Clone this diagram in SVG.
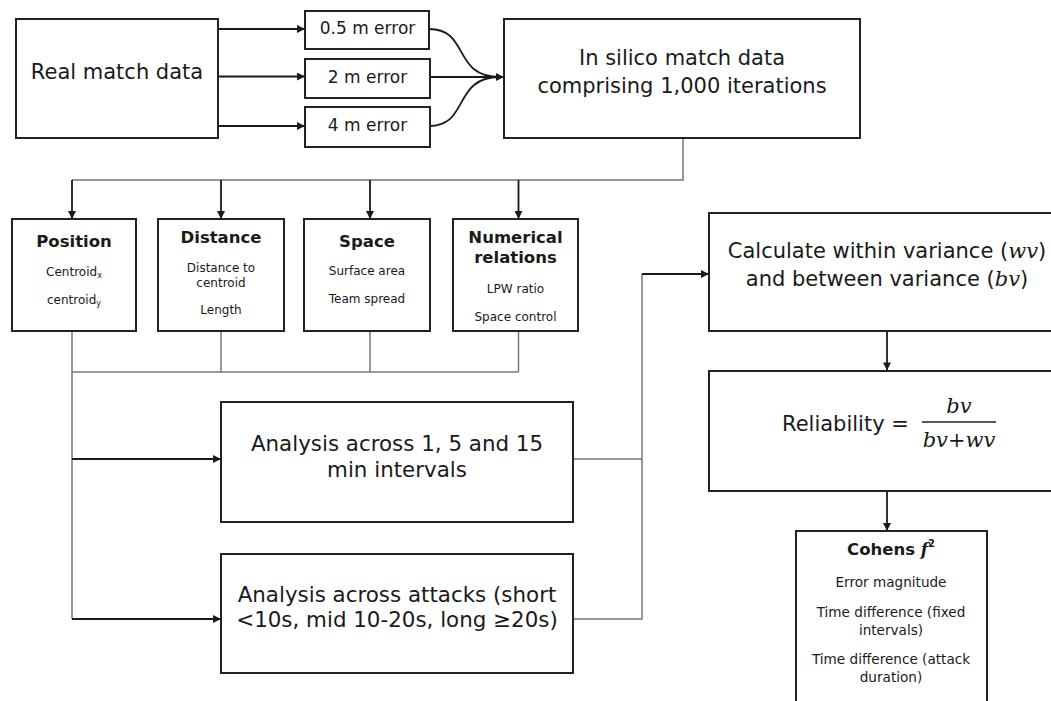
<svg xmlns="http://www.w3.org/2000/svg" width="1051" height="701" viewBox="0 0 1051 701">
<defs>
<marker id="ah" viewBox="0 0 10 10" markerWidth="9" markerHeight="8" refX="10" refY="5" orient="auto" markerUnits="userSpaceOnUse">
<path d="M0,0 L10,5 L0,10 z" fill="#1a1a1a"/>
</marker>
</defs>
<style>
.box{fill:#fff;stroke:#222;stroke-width:2}
.t{font-family:"DejaVu Sans",Verdana,sans-serif;fill:#1a1a1a;text-anchor:middle;dominant-baseline:central}
.big{font-size:21px}
.ana{font-size:21.4px}
.mid{font-size:17px}
.hd{font-size:16.5px;font-weight:bold}
.sm{font-size:12px}
.cs{font-size:13.6px}
.m{font-family:"DejaVu Serif",serif;font-style:italic}
.ln{fill:none;stroke:#777;stroke-width:1.5}
.ar{fill:none;stroke:#1a1a1a;stroke-width:1.8;marker-end:url(#ah)}
.cv{fill:none;stroke:#1a1a1a;stroke-width:1.8}
</style>
<rect width="1051" height="701" fill="#fff"/>

<g id="connectors">
<path class="ar" d="M218,29 H305"/>
<path class="ar" d="M218,76.5 H305"/>
<path class="ar" d="M218,126 H305"/>
<path class="cv" d="M429,29 C470,29 452,77 500,77"/>
<path class="cv" d="M429,126 C470,126 452,77 500,77"/>
<path class="ar" d="M430,77 H504"/>
<path class="ln" d="M683,138 V180 H72"/>
<path class="ar" d="M72,180 V219"/>
<path class="ar" d="M221,180 V219"/>
<path class="ar" d="M370,180 V219"/>
<path class="ar" d="M518.5,180 V219"/>
<path class="ln" d="M72,331 V619"/>
<path class="ln" d="M221,331 V372"/>
<path class="ln" d="M370,331 V372"/>
<path class="ln" d="M518.5,331 V372"/>
<path class="ln" d="M72,372 H518.5"/>
<path class="ar" d="M72,459 H221"/>
<path class="ar" d="M72,619 H221"/>
<path class="ln" d="M573,459 H642"/>
<path class="ln" d="M573,619 H642 V274"/>
<path class="ar" d="M642,274 H709"/>
<path class="ar" d="M887,331 V370.5"/>
<path class="ar" d="M887,491 V531"/>
</g>

<g id="real">
<rect class="box" x="16" y="19" width="202" height="119"/>
<text class="t big" x="117" y="72">Real match data</text>
</g>
<g id="err05">
<rect class="box" x="305" y="11" width="124" height="38"/>
<text class="t mid" x="367.5" y="28">0.5 m error</text>
</g>
<g id="err2">
<rect class="box" x="305" y="59" width="125" height="39"/>
<text class="t mid" x="367.5" y="76.5">2 m error</text>
</g>
<g id="err4">
<rect class="box" x="305" y="107" width="125" height="40"/>
<text class="t mid" x="367.5" y="125">4 m error</text>
</g>
<g id="insilico">
<rect class="box" x="504" y="19" width="356" height="119"/>
<text class="t big" x="682" y="58">In silico match data</text>
<text class="t big" x="682" y="86">comprising 1,000 iterations</text>
</g>

<g id="position">
<rect class="box" x="12" y="219" width="124" height="112"/>
<text class="t hd" x="74" y="241">Position</text>
<text class="t sm" x="74" y="272">Centroid<tspan font-size="8" dy="3">x</tspan></text>
<text class="t sm" x="74" y="300">centroid<tspan font-size="8" dy="3">y</tspan></text>
</g>
<g id="distance">
<rect class="box" x="158" y="219" width="126" height="112"/>
<text class="t hd" x="221" y="237">Distance</text>
<text class="t sm" x="221" y="268">Distance to</text>
<text class="t sm" x="221" y="283">centroid</text>
<text class="t sm" x="221" y="310">Length</text>
</g>
<g id="space">
<rect class="box" x="304" y="219" width="126" height="112"/>
<text class="t hd" x="367" y="241">Space</text>
<text class="t sm" x="367" y="271">Surface area</text>
<text class="t sm" x="367" y="299">Team spread</text>
</g>
<g id="numerical">
<rect class="box" x="453" y="219" width="125" height="112"/>
<text class="t hd" x="515.5" y="237">Numerical</text>
<text class="t hd" x="515.5" y="257">relations</text>
<text class="t sm" x="515.5" y="289">LPW ratio</text>
<text class="t sm" x="515.5" y="317">Space control</text>
</g>

<g id="analysis-intervals">
<rect class="box" x="221" y="402" width="352" height="120"/>
<text class="t ana" x="397" y="443">Analysis across 1, 5 and 15</text>
<text class="t ana" x="397" y="469">min intervals</text>
</g>
<g id="analysis-attacks">
<rect class="box" x="221" y="554" width="352" height="119"/>
<text class="t ana" x="397" y="594">Analysis across attacks (short</text>
<text class="t ana" x="397" y="619">&lt;10s, mid 10-20s, long ≥20s)</text>
</g>

<g id="calculate">
<rect class="box" x="709" y="213" width="360" height="118"/>
<text class="t big" x="887" y="251">Calculate within variance (<tspan class="m">wv</tspan>)</text>
<text class="t big" x="887" y="279">and between variance (<tspan class="m">bv</tspan>)</text>
</g>
<g id="reliability">
<rect class="box" x="709" y="371" width="360" height="120"/>
<text class="t big" x="782" y="424" style="text-anchor:start">Reliability =</text>
<text class="t big m" x="959" y="406">bv</text>
<path d="M922,422 H996" stroke="#222" stroke-width="1.5"/>
<text class="t big m" x="959" y="440">bv+wv</text>
</g>
<g id="cohens">
<rect class="box" x="796" y="531" width="191" height="200"/>
<text class="t hd" x="891" y="549">Cohens <tspan font-family="DejaVu Serif" font-style="italic">f</tspan><tspan font-size="10" dy="-6">2</tspan></text>
<text class="t cs" x="891" y="582">Error magnitude</text>
<text class="t cs" x="891" y="612">Time difference (fixed</text>
<text class="t cs" x="891" y="630">intervals)</text>
<text class="t cs" x="891" y="659">Time difference (attack</text>
<text class="t cs" x="891" y="677">duration)</text>
</g>
</svg>
